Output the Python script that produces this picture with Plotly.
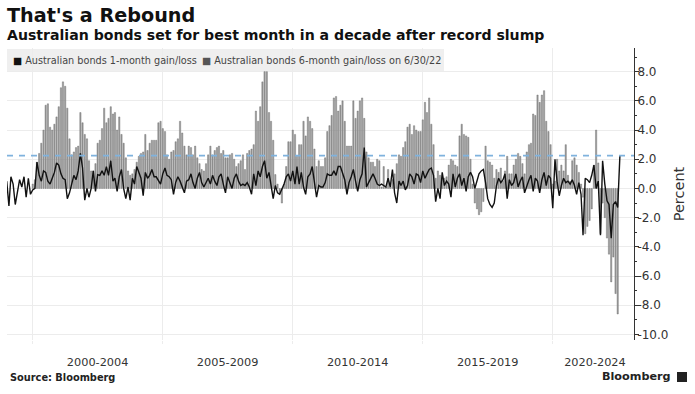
import pandas as pd
import plotly.graph_objects as go

title = "That's a Rebound"
subtitle = "Australian bonds set for best month in a decade after record slump"
name_one = "Australian bonds 1-month gain/loss"
name_six = "Australian bonds 6-month gain/loss on 6/30/22"
period_labels = ["2000-2004", "2005-2009", "2010-2014", "2015-2019", "2020-2024"]
period_mids = ["2002-07-01", "2007-07-01", "2012-07-01", "2017-07-01", "2021-08-15"]
period_edges = ["2000-01-01", "2005-01-01", "2010-01-01", "2015-01-01", "2020-01-01"]

one_month = [
    0.5, -1.2, 0.8, 0.3, -1.1, -0.2, 0.6, 0.1, 0.8, -0.6, 0.7, -0.4,  # 1999
    -0.1, 0.0, 1.8, 0.9, 0.5, 1.2, 1.1, 0.5, 0.3, 0.7, 1.1, 1.75,  # 2000
    1.6, 1.0, 0.7, 0.6, -0.7, -0.3, 0.2, 0.9, 0.6, 1.2, 2.4, 1.4,  # 2001
    -0.8, 0.0, -0.6, 0.0, 1.2, -0.2, 0.95, 0.9, 1.2, 0.9, 1.5, 0.9,  # 2002
    1.9, 0.5, 0.7, -0.2, 0.8, 1.3, 0.0, -0.7, 0.1, -0.8, 0.7, 0.3,  # 2003
    1.5, 1.0, 0.7, -0.5, 1.1, 0.7, 0.9, 1.3, 0.8, 0.8, 0.5, 0.3,  # 2004
    1.0, 1.4, 0.9, 0.8, 0.6, -0.4, 0.4, 0.8, 0.5, 0.1, -0.3, 0.5,  # 2005
    0.6, 1.0, 0.4, 0.0, 0.7, 1.1, 0.4, 0.1, 0.4, 0.7, 0.3, 0.9,  # 2006
    0.5, 0.2, 0.8, 1.0, 0.3, -0.3, 0.8, 0.4, 0.0, 0.7, 1.0, 0.5,  # 2007
    0.2, 0.3, 0.2, 0.4, 0.1, -0.4, 1.0, 0.2, 1.2, 0.8, 1.5, 1.9,  # 2008
    0.7, 1.1, 0.2, -0.7, 0.2, -0.3, -0.4, -0.1, 0.3, 0.8, 1.0, 0.5,  # 2009
    1.2, 0.3, 1.5, 0.3, 1.1, 0.1, -0.4, 0.8, 1.0, 1.5, 0.4, -0.6,  # 2010
    0.2, 0.1, 0.1, 0.4, 1.0, 0.9, 0.9, 1.2, 0.9, 1.5, 1.5, 1.0,  # 2011
    0.6, -0.4, 0.4, 0.8, 1.3, 0.5, -0.2, 0.6, 1.0, 2.8, 0.1, 0.4,  # 2012
    0.7, 1.0, 0.7, 0.3, 0.2, 0.3, 0.2, 0.1, 0.7, 0.1, 1.3, -0.3,  # 2013
    -1.0, 0.5, 0.2, 0.5, -0.1, 0.2, 1.0, 0.8, 0.3, 1.0, 0.9, 0.4,  # 2014
    1.2, 0.7, 1.0, 1.3, 1.4, 0.9, -0.9, 0.0, -0.7, 1.1, 0.2, 0.5,  # 2015
    0.3, -0.6, 1.0, 0.1, 0.7, 1.0, 0.2, 0.7, -0.2, 0.8, 1.1, 0.8,  # 2016
    0.0, 0.6, 1.0, 1.2, 1.3, 0.4, -0.7, -1.1, -1.3, -1.0, 0.2, 0.7,  # 2017
    0.4, 0.6, 1.0, -0.7, 0.6, 0.2, 0.4, 1.0, 0.1, 0.5, 0.8, -0.3,  # 2018
    0.2, 0.6, 0.9, -0.2, 0.7, 0.5, -0.3, 0.6, 1.1, 0.2, 0.9, 0.7,  # 2019
    -1.35, 2.0, 0.5, -0.5, 0.2, 0.7, 0.4, 0.5, 0.3, 0.6, 0.2, -0.4,  # 2020
    0.4, -0.4, -3.2, 0.7, 0.6, 0.4, 0.9, 1.6, 0.0, 0.5, -3.2, 1.9,  # 2021
    0.3, -0.85, -1.1, -3.4, -1.1, -0.9, -1.3, 2.25,  # 2022
]

six_month = [
    0.3, 0.6, 1.8, 2.4, 3.1, 4.0, 5.7, 5.8, 4.2, 4.0, 4.4, 4.9,  # 2000
    5.6, 6.9, 7.3, 7.0, 5.5, 3.4, 2.3, 2.5, 2.8, 2.9, 5.2, 4.5,  # 2001
    3.7, 3.4, 1.9, 1.2, 1.2, 1.7, 3.1, 3.3, 4.1, 5.5, 4.5, 4.8,  # 2002
    5.6, 5.1, 5.2, 4.0, 4.9, 3.7, 3.1, 2.1, 1.2, 0.9, 1.0, 1.3,  # 2003
    1.8, 2.2, 2.4, 2.5, 3.7, 2.6, 3.1, 3.3, 3.3, 3.3, 4.5, 4.6,  # 2004
    4.1, 3.9, 2.3, 2.0, 2.5, 2.6, 3.2, 3.4, 4.6, 3.8, 2.9, 2.3,  # 2005
    2.9, 2.8, 2.3, 2.9, 2.1, 1.7, 1.3, 1.2, 1.7, 2.3, 2.9, 2.3,  # 2006
    2.6, 2.8, 2.9, 2.4, 2.6, 2.1, 2.1, 2.3, 2.4, 2.0, 1.5, 1.7,  # 2007
    1.9, 2.3, 1.3, 2.4, 2.6, 2.7, 3.0, 5.3, 4.6, 5.6, 7.3, 8.0,  # 2008
    8.0, 5.2, 4.6, 3.3, 0.95, 0.3, -0.4, -1.0, 0.3, 1.5, 3.2, 3.2,  # 2009
    4.0, 3.7, 2.2, 3.0, 3.0, 4.6, 3.6, 4.9, 4.6, 4.1, 2.7, 1.5,  # 2010
    1.9, 1.5, 1.5, 2.1, 3.9, 4.3, 5.0, 6.2, 6.3, 5.3, 5.7, 6.0,  # 2011
    4.6, 2.9, 2.9, 2.9, 6.0, 4.8, 5.3, 6.0, 6.2, 4.8, 2.5, 2.1,  # 2012
    1.8, 1.8, 1.5, 2.0, 1.9, 0.1, 1.5, 0.1, 1.3, 0.1, 0.6, 1.0,  # 2013
    1.7, 2.3, 2.2, 2.8, 3.2, 4.2, 4.4, 3.7, 4.3, 4.0, 3.9, 3.9,  # 2014
    4.7, 5.9, 5.2, 6.2, 4.4, 3.0, 0.7, 1.2, 0.9, 0.7, 0.7, 0.8,  # 2015
    1.6, 2.0, 1.9, 1.6, 1.5, 3.6, 4.4, 3.7, 3.6, 3.5, 2.0, 0.3,  # 2016
    -1.0, -1.4, -1.8, -1.6, -0.9, 2.9, 1.9, 1.8, 1.6, 0.7, 1.3, 1.1,  # 2017
    1.4, 0.5, 1.2, 2.2, 1.0, 1.0, 1.6, 2.0, 2.4, 2.2, 1.7, 1.0,  # 2018
    2.5, 3.0, 3.1, 5.1, 5.0, 6.4, 5.9, 6.4, 6.7, 4.6, 3.9, 3.0,  # 2019
    0.3, 0.5, 2.0, 1.2, 1.6, 1.2, 3.0, 0.9, 0.5, 1.9, 2.1, 1.6,  # 2020
    1.1, 0.3, -0.6, -3.1, -2.6, -2.2, -1.4, 1.6, 4.0, 1.75, -3.1, -1.0,  # 2021
    -2.0, -3.4, -4.5, -6.4, -4.7, -7.2, -8.6,  # 2022
]

months_one = pd.date_range("1999-01-01", periods=len(one_month), freq="MS")
months_six = pd.date_range("2000-01-01", periods=len(six_month), freq="MS")

fig = go.Figure()
fig.add_trace(go.Bar(x=months_six, y=six_month, name=name_six,
                     marker=dict(color="#9c9c9c", line=dict(color="#6a6a6a", width=0.4)),
                     showlegend=False))
fig.add_trace(go.Scatter(x=months_one, y=one_month, name=name_one, mode="lines",
                         line=dict(color="#111111", width=1.4), showlegend=False))

fig.update_layout(
    width=695, height=394, autosize=False,
    margin=dict(l=7, r=61, t=48, b=54),
    paper_bgcolor="white", plot_bgcolor="rgba(0,0,0,0)",
    bargap=0.35,
    font=dict(family="DejaVu Sans", color="#333333", size=12),
    xaxis=dict(
        type="date", range=["1999-01-05", "2023-02-15"],
        tickmode="array", tickvals=period_mids, ticktext=period_labels,
        ticks="outside", ticklen=11, tickcolor="rgba(0,0,0,0)", showgrid=False, zeroline=False,
        showline=False, tickfont=dict(size=11.3, color="#333333"),
        minor=dict(tickmode="array", tickvals=period_edges, showgrid=True, gridcolor="#ececec", gridwidth=1,
                   ticks="outside", ticklen=3, tickcolor="#ececec"),
    ),
    yaxis=dict(
        side="right", range=[-10.38, 9.62], tickmode="array",
        tickvals=[-10, -8, -6, -4, -2, 0, 2, 4, 6, 8],
        ticktext=["-10.0", "-8.0", "-6.0", "-4.0", "-2.0", "0.0", "2.0", "4.0", "6.0", "8.0"],
        showgrid=True, gridcolor="#ececec", gridwidth=1, zeroline=False,
        showline=True, linecolor="#333333", linewidth=1,
        ticks="outside", ticklen=4, tickcolor="#333333", tickfont=dict(size=12, color="#333333"),
        ticklabelstandoff=-4,
        minor=dict(dtick=1, ticks="outside", ticklen=2, tickcolor="#333333", showgrid=False),
        title=dict(text="Percent", font=dict(size=14.5, color="#333333"), standoff=6),
    ),
    annotations=[
        dict(text=f"<b>{title}</b>", xref="paper", yref="paper", x=0, y=(340 - 15) / 292, xanchor="left",
             yanchor="middle", showarrow=False, xshift=-2, font=dict(size=19.2, color="#111111")),
        dict(text=f"<b>{subtitle}</b>", xref="paper", yref="paper", x=0, y=(340 - 35) / 292, xanchor="left",
             yanchor="middle", showarrow=False, xshift=-2, font=dict(size=14.1, color="#111111")),
        dict(text=f"<span style='color:#111111'>■</span> {name_one}", xref="paper", yref="paper",
             x=(11 - 7) / 627, y=(340 - 60) / 292, xanchor="left", yanchor="middle", showarrow=False,
             font=dict(size=9.7, color="#444444")),
        dict(text=f"<span style='color:#555555'>■</span> {name_six}", xref="paper", yref="paper",
             x=(200 - 7) / 627, y=(340 - 60) / 292, xanchor="left", yanchor="middle", showarrow=False,
             font=dict(size=9.7, color="#444444")),
        dict(text="<b>Source: Bloomberg</b>", xref="paper", yref="paper", x=(10 - 7) / 627, y=(340 - 377) / 292,
             xanchor="left", yanchor="middle", showarrow=False, xshift=-2, font=dict(size=9.8, color="#222222")),
        dict(text="<b>Bloomberg</b>", xref="paper", yref="paper", x=(672 - 7) / 627, y=(340 - 376) / 292,
             xanchor="right", yanchor="middle", showarrow=False, xshift=1, font=dict(size=11.2, color="#222222")),
    ],
)
fig.add_shape(type="rect", xref="paper", yref="paper", x0=0, x1=437 / 627, y0=(340 - 72) / 292, y1=(340 - 49) / 292,
              fillcolor="#efefef", line_width=0, layer="below")
fig.add_shape(type="rect", xref="paper", yref="paper", x0=(677 - 7) / 627, x1=(687 - 7) / 627,
              y0=(340 - 382) / 292, y1=(340 - 372) / 292, fillcolor="#222222", line_width=0)
fig.add_hline(y=one_month[-1], line=dict(color="#7fb2dd", width=1.6, dash="6px,6px"))
fig.write_html("out.html", config={"displayModeBar": False}, post_script="document.body.style.margin='0';")
